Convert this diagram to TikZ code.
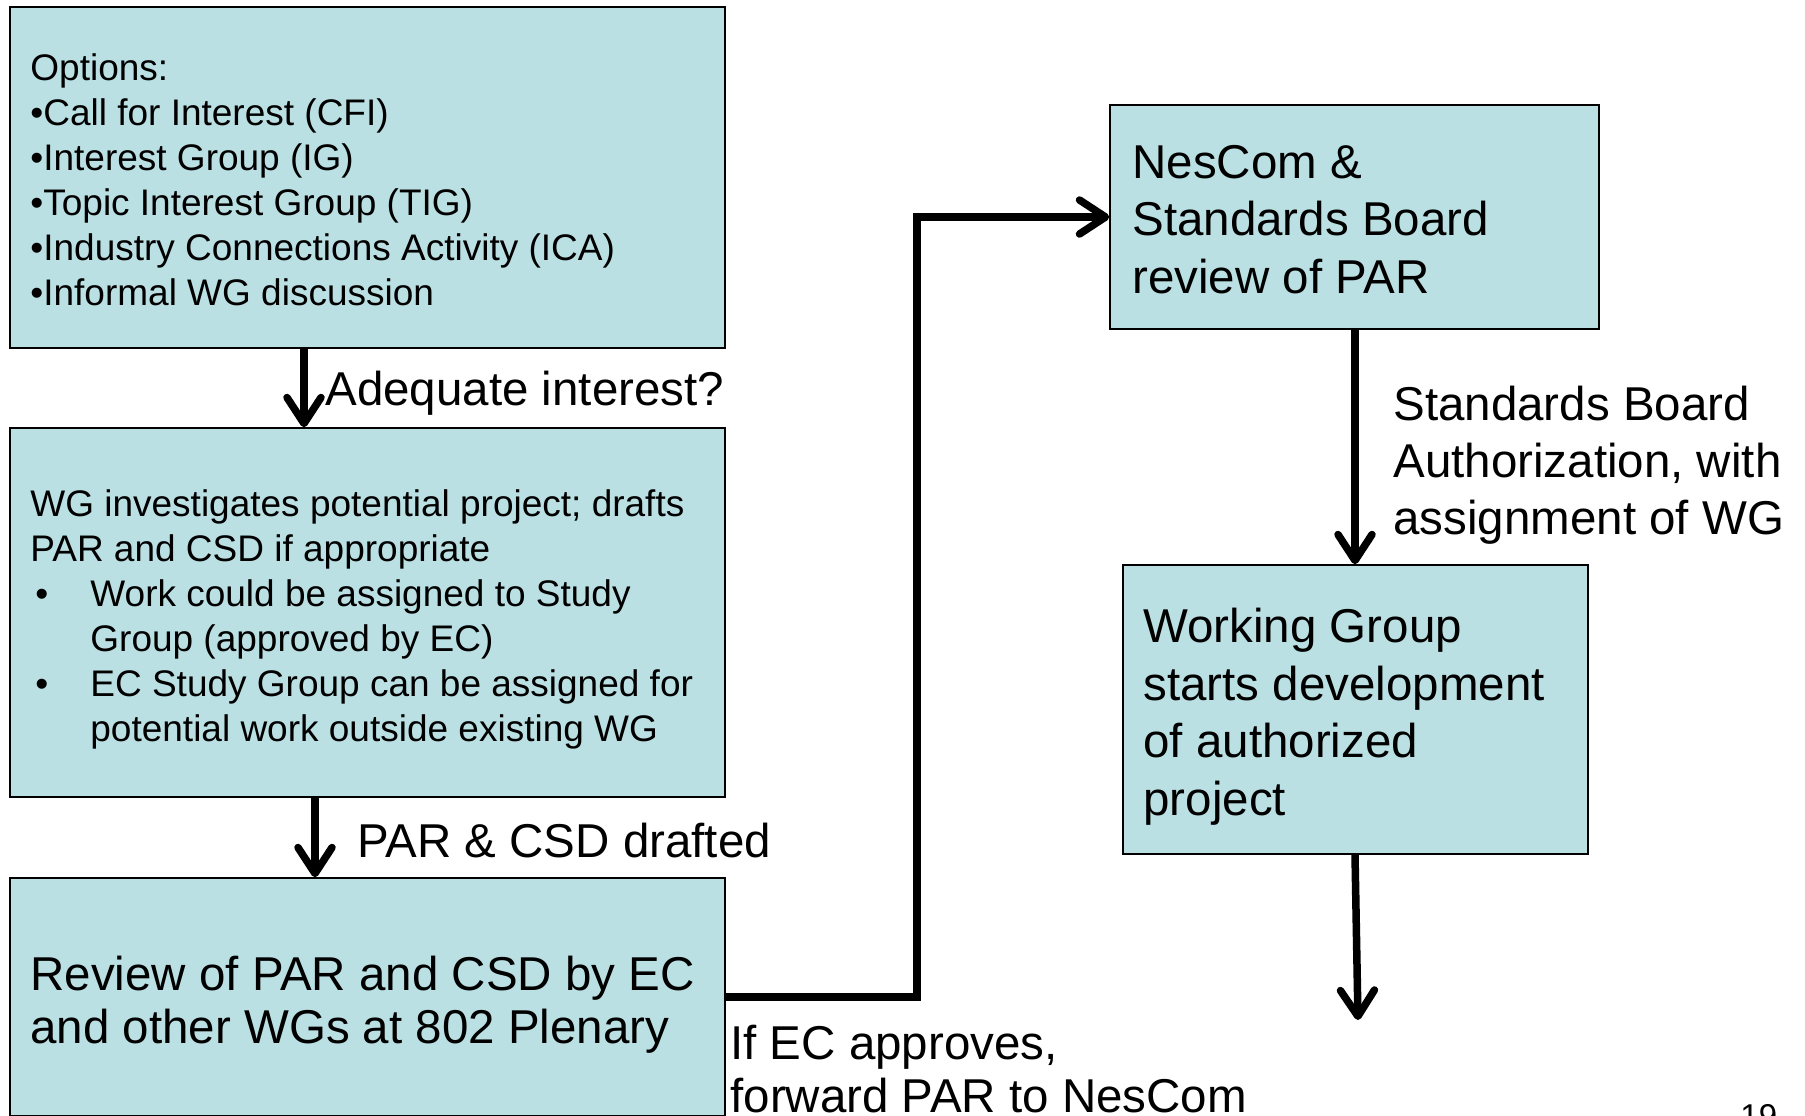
\documentclass[tikz,border=0pt]{standalone}
\usepackage{fontspec}
\setmainfont{Liberation Sans}
\usetikzlibrary{arrows.meta,fit}
\definecolor{boxblue}{RGB}{187,224,227}
\newcommand\bul{\hspace*{2.5pt}\makebox[27.5pt][l]{•}}
\newcommand\hang{\hspace*{30pt}}
\begin{document}
\begin{tikzpicture}[x=0.5pt, y=-0.5pt,
  box/.style={draw=black, line width=0.75pt, fill=boxblue, inner sep=0pt},
  txt/.style={anchor=north west, inner sep=0pt, align=left,
    font=\fontsize{18.5pt}{22.5pt}\selectfont},
  bigtxt/.style={anchor=north west, inner sep=0pt, align=left,
    font=\fontsize{23.75pt}{#1}\selectfont},
  flow/.style={line width=3.75pt, -{Straight Barb[length=13pt,width=17pt,round]}}]
\useasboundingbox (0,0) rectangle (1805,1115);

% boxes
\node[box, fit={(10,7) (725,348)}] (opts) {};
\node[box, fit={(10,428) (725,797)}] (wg) {};
\node[box, fit={(10,878) (725,1116)}] (rev) {};
\node[box, fit={(1110,105) (1599,329)}] (nes) {};
\node[box, fit={(1123,565) (1588,854)}] (work) {};

\node[txt] (optstxt) at (30,48.5) {\strut Options:\\•Call for Interest (CFI)\\•Interest Group (IG)\\
  •Topic Interest Group (TIG)\\•Industry Connections Activity (ICA)\\•Informal WG discussion};
\node[txt] (wgtxt) at (30,484.5) {\strut WG investigates potential project; drafts\\
  PAR and CSD if appropriate\\\bul Work could be assigned to Study\\\hang Group (approved by EC)\\
  \bul EC Study Group can be assigned for\\\hang potential work outside existing WG};
\node[bigtxt=26.75pt] (revtxt) at (30,952.5) {\strut Review of PAR and CSD by EC\\and other WGs at 802 Plenary};
\node[bigtxt=28.75pt] (nestxt) at (1132,137.75) {\strut NesCom \&\\Standards Board\\review of PAR};
\node[bigtxt=28.75pt] (worktxt) at (1143,602) {\strut Working Group\\starts development\\of authorized\\project};

% labels
\node[bigtxt=28pt, anchor=base west] (adqlbl) at (325,405) {Adequate interest?};
\node[bigtxt=28pt, anchor=base west] (drflbl) at (357,857) {PAR \& CSD drafted};
\node[bigtxt=28.5pt] (authlbl) at (1393,380.1) {\strut Standards Board\\Authorization, with\\assignment of WG};
\node[bigtxt=26.5pt] (fwdlbl) at (730,1022) {\strut If EC approves,\\forward PAR to NesCom};
\node[anchor=base west, inner sep=0pt, font=\fontsize{16.5pt}{20pt}\selectfont] (pgnum) at (1740,1127) {19};

% connectors
\coordinate (a1) at (304,0);
\coordinate (a2) at (315,0);
\coordinate (a3) at (917,0);
\coordinate (a4) at (1355,0);
\coordinate (wgend) at (1358,1020);
\draw[flow] (opts.south -| a1) -- (wg.north -| a1);
\draw[flow] (wg.south -| a2) -- (rev.north -| a2);
\draw[flow] (rev.east) -| (a3 |- nes.west) -- (nes.west);
\draw[flow] (nes.south -| a4) -- (work.north -| a4);
\draw[flow] (work.south -| a4) -- (wgend);
\end{tikzpicture}
\end{document}
